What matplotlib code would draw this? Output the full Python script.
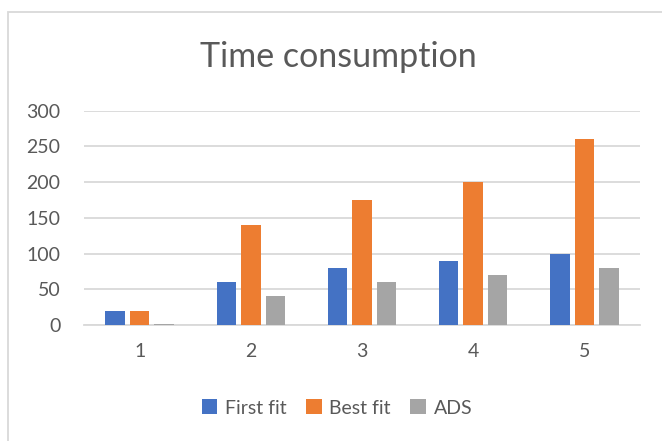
import matplotlib
matplotlib.use("Agg")
import matplotlib.pyplot as plt
from matplotlib.patches import Rectangle
import numpy as np

categories = ["1", "2", "3", "4", "5"]
first_fit = [20, 60, 80, 90, 100]
best_fit = [20, 140, 175, 200, 260]
ads = [2, 40, 60, 70, 80]
series_names = ["First fit", "Best fit", "ADS"]
y_ticks = [0, 50, 100, 150, 200, 250, 300]

colors = ["#4472C4", "#ED7D31", "#A5A5A5"]
text_color = "#595959"
grid_color = "#D9D9D9"

plt.rcParams["font.family"] = ["Lato", "DejaVu Sans"]

W, H = 662, 441
fig = plt.figure(figsize=(W / 100, H / 100), dpi=100)

# chart frame
fig.patches.append(Rectangle((7.5 / W, -0.05), 1.0, 1 - 11.5 / H + 0.05,
                             transform=fig.transFigure, fill=False,
                             edgecolor=grid_color, linewidth=1.3))

ax = fig.add_axes([84 / W, 1 - 325 / H, (640 - 84) / W, (325 - 110.7) / H])

x = np.arange(len(categories))
width = 0.175
step = 0.22
for i, (vals, name) in enumerate(zip([first_fit, best_fit, ads], series_names)):
    ax.bar(x + (i - 1) * step, vals, width, color=colors[i], label=name, zorder=3)

ax.set_xlim(-0.5, len(categories) - 0.5)
ax.set_ylim(0, 300)
ax.set_yticks(y_ticks)
ax.set_xticks(x)
ax.set_xticklabels(categories)
ax.yaxis.grid(True, color=grid_color, linewidth=1.3, zorder=0)
ax.set_axisbelow(True)
for s in ["top", "right", "left"]:
    ax.spines[s].set_visible(False)
ax.spines["bottom"].set_color(grid_color)
ax.spines["bottom"].set_linewidth(1.3)
ax.tick_params(axis="both", length=0, labelsize=14, labelcolor=text_color)
ax.tick_params(axis="y", pad=17)
ax.tick_params(axis="x", pad=13)

fig.text(338 / W, 1 - 57 / H, "Time consumption", ha="center", va="center",
         fontsize=24.5, color=text_color)

leg = fig.legend(loc="center", bbox_to_anchor=(337 / W, 1 - 408 / H), ncol=3,
                 frameon=False, fontsize=14, handlelength=0.8, handleheight=0.8,
                 handletextpad=0.4, columnspacing=1.0)
for t in leg.get_texts():
    t.set_color(text_color)

fig.savefig("out.png", dpi=100)
